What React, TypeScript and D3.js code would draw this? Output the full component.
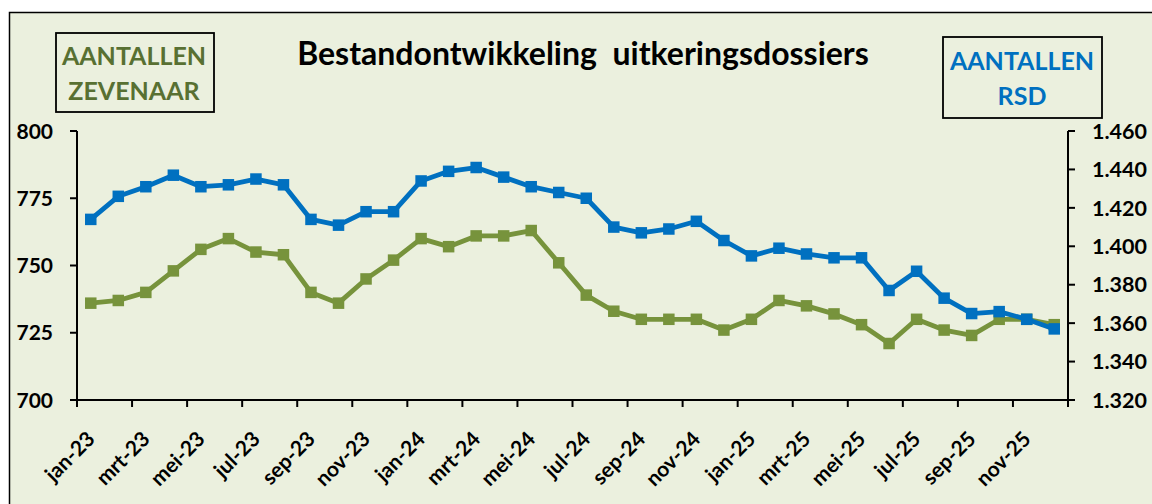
import React from "react";
import * as d3 from "d3";

const months: string[] = [
  "jan-23","feb-23","mrt-23","apr-23","mei-23","jun-23","jul-23","aug-23","sep-23","okt-23","nov-23","dec-23",
  "jan-24","feb-24","mrt-24","apr-24","mei-24","jun-24","jul-24","aug-24","sep-24","okt-24","nov-24","dec-24",
  "jan-25","feb-25","mrt-25","apr-25","mei-25","jun-25","jul-25","aug-25","sep-25","okt-25","nov-25","dec-25",
];

// AANTALLEN ZEVENAAR (left axis)
const zevenaar: number[] = [
  736, 737, 740, 748, 756, 760, 755, 754, 740, 736, 745, 752,
  760, 757, 761, 761, 763, 751, 739, 733, 730, 730, 730, 726,
  730, 737, 735, 732, 728, 721, 730, 726, 724, 730, 730, 728,
];

// AANTALLEN RSD (right axis)
const rsd: number[] = [
  1414, 1426, 1431, 1437, 1431, 1432, 1435, 1432, 1414, 1411, 1418, 1418,
  1434, 1439, 1441, 1436, 1431, 1428, 1425, 1410, 1407, 1409, 1413, 1403,
  1395, 1399, 1396, 1394, 1394, 1377, 1387, 1373, 1365, 1366, 1362, 1357,
];

const leftTicks: number[] = [700, 725, 750, 775, 800];
const rightTicks: number[] = [1320, 1340, 1360, 1380, 1400, 1420, 1440, 1460];

const title = "Bestandontwikkeling\u00a0\u00a0uitkeringsdossiers";
const leftBoxLines = ["AANTALLEN", "ZEVENAAR"];
const rightBoxLines = ["AANTALLEN", "RSD"];

const W = 1152;
const H = 504;
const FONT = "Lato, 'Open Sans', sans-serif";
const GREEN = "#77933C";
const GREEN_TEXT = "#587032";
const BLUE = "#0070C0";
const BG = "#EBF0DE";

const nl = d3.formatLocale({ decimal: ",", thousands: ".", grouping: [3], currency: ["€", ""] });
const fmtRight = nl.format(",");

export default function App() {
  const left = 77, right = 1068, top = 131, bottom = 400;
  const x = d3.scaleBand<string>().domain(months).range([left, right]).padding(0);
  const yL = d3.scaleLinear().domain([700, 800]).range([bottom, top]);
  const yR = d3.scaleLinear().domain([1320, 1460]).range([bottom, top]);
  const cx = (m: string) => (x(m) as number) + x.bandwidth() / 2;

  const lineL = d3.line<number>().x((_, i) => cx(months[i])).y((d) => yL(d));
  const lineR = d3.line<number>().x((_, i) => cx(months[i])).y((d) => yR(d));

  const ms = 11.5;
  const boundaries = d3.range(0, months.length + 1, 2);

  return (
    <svg width={W} height={H} style={{ position: "absolute", left: 0, top: 0, display: "block" }} fontFamily={FONT}>
      <rect x={0} y={0} width={W} height={H} fill="#ffffff" />
      <rect x={9.5} y={12.5} width={W + 20} height={H + 20} fill={BG} stroke="#000" strokeWidth={1.5} />

      <text x={583} y={65} textAnchor="middle" fontSize={32} fontWeight={700} fill="#000">{title}</text>

      <rect x={56} y={33} width={158} height={79} fill="none" stroke="#000" strokeWidth={1.8} />
      {leftBoxLines.map((t, i) => (
        <text key={t} x={134} y={65 + i * 35} textAnchor="middle" fontSize={25} fontWeight={700} fill={GREEN_TEXT}>{t}</text>
      ))}
      <rect x={943} y={37} width={159} height={81} fill="none" stroke="#000" strokeWidth={1.8} />
      {rightBoxLines.map((t, i) => (
        <text key={t} x={1022} y={70 + i * 35} textAnchor="middle" fontSize={25} fontWeight={700} fill={BLUE}>{t}</text>
      ))}

      {/* left axis */}
      <line x1={left} x2={left} y1={top} y2={bottom} stroke="#000" strokeWidth={2} />
      {leftTicks.map((t) => (
        <g key={t}>
          <line x1={left - 7} x2={left} y1={yL(t)} y2={yL(t)} stroke="#000" strokeWidth={2} />
          <text x={53} y={yL(t)} dy="0.36em" textAnchor="end" fontSize={21} fontWeight={700} fill="#000">{t}</text>
        </g>
      ))}

      {/* right axis */}
      <line x1={right} x2={right} y1={top} y2={bottom + 7} stroke="#000" strokeWidth={2} />
      {rightTicks.map((t) => (
        <g key={t}>
          <line x1={right} x2={right + 7} y1={yR(t)} y2={yR(t)} stroke="#000" strokeWidth={2} />
          <text x={1092} y={yR(t)} dy="0.36em" textAnchor="start" fontSize={21.5} fontWeight={700} fill="#000">{fmtRight(t)}</text>
        </g>
      ))}

      {/* x axis */}
      <line x1={left} x2={right} y1={bottom} y2={bottom} stroke="#000" strokeWidth={2} />
      {boundaries.map((i) => {
        const bx = i < months.length ? (x(months[i]) as number) : right;
        return <line key={i} x1={bx} x2={bx} y1={bottom} y2={bottom + 7} stroke="#000" strokeWidth={2} />;
      })}
      {months.map((m, i) =>
        i % 2 === 0 ? (
          <text
            key={m}
            transform={`translate(${cx(m)},${bottom + 35}) rotate(-45)`}
            textAnchor="end"
            dy="0.36em"
            fontSize={21}
            fontWeight={700}
            fill="#000"
          >
            {m}
          </text>
        ) : null
      )}

      {/* series */}
      <path d={lineL(zevenaar) as string} fill="none" stroke={GREEN} strokeWidth={4.8} strokeLinejoin="round" />
      {zevenaar.map((v, i) => (
        <rect key={"g" + i} x={cx(months[i]) - ms / 2} y={yL(v) - ms / 2} width={ms} height={ms} fill={GREEN} />
      ))}
      <path d={lineR(rsd) as string} fill="none" stroke={BLUE} strokeWidth={4.8} strokeLinejoin="round" />
      {rsd.map((v, i) => (
        <rect key={"b" + i} x={cx(months[i]) - ms / 2} y={yR(v) - ms / 2} width={ms} height={ms} fill={BLUE} />
      ))}
    </svg>
  );
}
